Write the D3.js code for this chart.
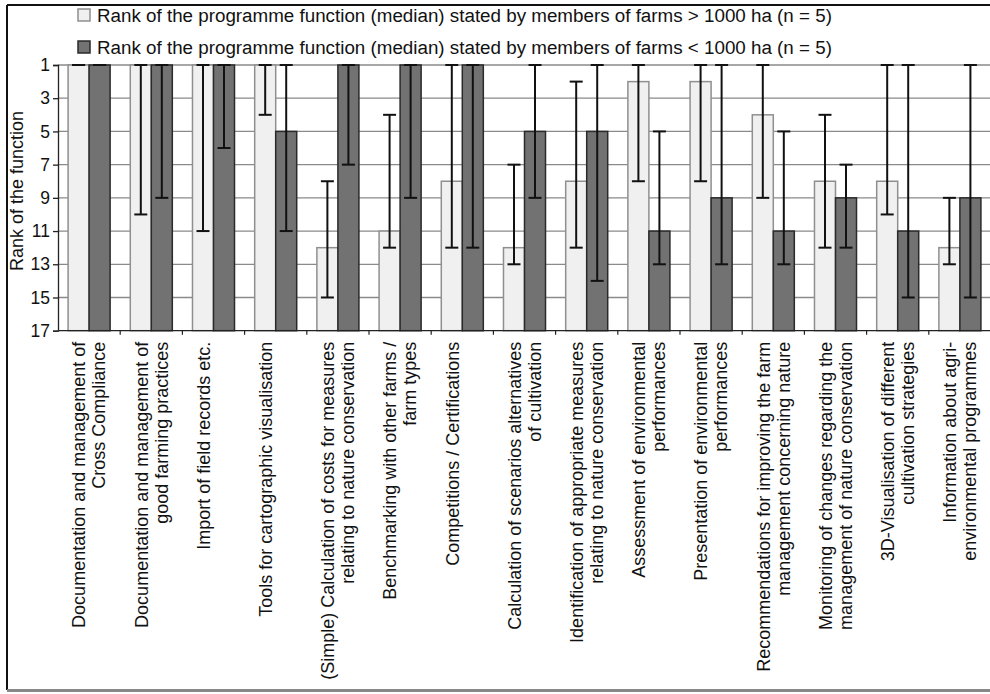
<!DOCTYPE html>
<html>
<head>
<meta charset="utf-8">
<script src="https://cdn.jsdelivr.net/npm/d3@7/dist/d3.min.js"></script>
<style>
  html, body { margin: 0; padding: 0; background: #fff; }
  svg { display: block; font-family: "Liberation Sans", Arial, sans-serif; }
</style>
</head>
<body>
<svg id="chart" width="990" height="694"></svg>
<script>
// Programme functions (each label split into its display lines)
const categories = [
  ["Documentation and management of", "Cross Compliance"],
  ["Documentation and management of", "good farming practices"],
  ["Import of field records etc."],
  ["Tools for cartographic visualisation"],
  ["(Simple) Calculation of costs for measures", "relating to nature conservation"],
  ["Benchmarking with other farms /", "farm types"],
  ["Competitions / Certifications"],
  ["Calculation of scenarios alternatives", "of cultivation"],
  ["Identification of appropriate measures", "relating to nature conservation"],
  ["Assessment of environmental", "performances"],
  ["Presentation of environmental", "performances"],
  ["Recommendations for improving the farm", "management concerning nature"],
  ["Monitoring of changes regarding the", "management of nature conservation"],
  ["3D-Visualisation of different", "cultivation strategies"],
  ["Information about agri-", "environmental programmes"]
];

// Farms > 1000 ha: median rank and range of stated ranks
const largeMedian = [1, 1, 1, 1, 12, 11, 8, 12, 8, 2, 2, 4, 8, 8, 12];
const largeBest   = [1, 1, 1, 1, 8, 4, 1, 7, 2, 1, 1, 1, 4, 1, 9];
const largeWorst  = [1, 10, 11, 4, 15, 12, 12, 13, 12, 8, 8, 9, 12, 10, 13];

// Farms < 1000 ha: median rank and range of stated ranks
const smallMedian = [1, 1, 1, 5, 1, 1, 1, 5, 5, 11, 9, 11, 9, 11, 9];
const smallBest   = [1, 1, 1, 1, 1, 1, 1, 1, 1, 5, 1, 5, 7, 1, 1];
const smallWorst  = [1, 9, 6, 11, 7, 9, 12, 9, 14, 13, 13, 13, 12, 15, 15];

const rankTicks = [1, 3, 5, 7, 9, 11, 13, 15, 17];

const seriesNames = [
  "Rank of the programme function (median) stated by members of farms > 1000 ha (n = 5)",
  "Rank of the programme function (median) stated by members of farms < 1000 ha (n = 5)"
];

const series = [
  { key: "large", median: largeMedian, best: largeBest, worst: largeWorst,
    fill: "#f0f0f0", stroke: "#8f8f8f" },
  { key: "small", median: smallMedian, best: smallBest, worst: smallWorst,
    fill: "#727272", stroke: "#2a2a2a" }
];

const svg = d3.select("#chart");
const W = 990, H = 694;
const plot = { left: 58, right: 991, top: 65, bottom: 330.7 };
const labelSize = 18;

// frame
svg.append("rect").attr("x", 0).attr("y", 0).attr("width", W).attr("height", H).attr("fill", "#fff");
svg.append("line").attr("x1", 7).attr("x2", W).attr("y1", 5).attr("y2", 5)
  .attr("stroke", "#111").attr("stroke-width", 2);
svg.append("line").attr("x1", 7).attr("x2", 7).attr("y1", 5).attr("y2", 690)
  .attr("stroke", "#111").attr("stroke-width", 2);
svg.append("line").attr("x1", 7).attr("x2", W).attr("y1", 690.5).attr("y2", 690.5)
  .attr("stroke", "#888").attr("stroke-width", 3);

const catIndex = d3.range(categories.length);
const x = d3.scaleBand().domain(catIndex).range([plot.left, plot.right]).paddingInner(0).paddingOuter(0);
const xInner = d3.scaleBand().domain(series.map(s => s.key)).range([0, x.bandwidth()])
  .paddingInner(0).paddingOuter(0.48);
const y = d3.scaleLinear().domain([1, 17]).range([plot.top, plot.bottom]);

// horizontal grid lines
svg.append("g").selectAll("line").data(rankTicks.filter(t => t !== 17)).join("line")
  .attr("x1", plot.left).attr("x2", W)
  .attr("y1", d => y(d)).attr("y2", d => y(d))
  .attr("stroke", "#8a8a8a").attr("stroke-width", 1.3);

// bars, hanging from the bottom rank up to the median
series.forEach(s => {
  svg.append("g").selectAll("rect").data(catIndex).join("rect")
    .attr("x", i => x(i) + xInner(s.key))
    .attr("y", i => y(s.median[i]))
    .attr("width", xInner.bandwidth())
    .attr("height", i => y(17) - y(s.median[i]))
    .attr("fill", s.fill)
    .attr("stroke", s.stroke)
    .attr("stroke-width", 1.5);
});

// range whiskers
const cap = 13;
series.forEach(s => {
  const g = svg.append("g").attr("stroke", "#111").attr("stroke-width", 2).attr("fill", "none");
  catIndex.forEach(i => {
    const cx = x(i) + xInner(s.key) + xInner.bandwidth() / 2;
    const y1 = y(s.best[i]), y2 = y(s.worst[i]);
    g.append("line").attr("x1", cx).attr("x2", cx).attr("y1", y1).attr("y2", y2);
    g.append("line").attr("x1", cx - cap / 2).attr("x2", cx + cap / 2).attr("y1", y1).attr("y2", y1);
    g.append("line").attr("x1", cx - cap / 2).attr("x2", cx + cap / 2).attr("y1", y2).attr("y2", y2);
  });
});

// y axis
const yAxis = d3.axisLeft(y).tickValues(rankTicks).tickSize(5).tickPadding(3).tickFormat(d3.format("d"));
const gy = svg.append("g").attr("transform", `translate(${plot.left},0)`).call(yAxis);
gy.select(".domain").attr("stroke", "#222").attr("stroke-width", 1.3);
gy.selectAll(".tick line").attr("stroke", "#222").attr("stroke-width", 1.3);
gy.selectAll(".tick text").attr("font-size", 17.5).attr("fill", "#111")
  .attr("font-family", "Liberation Sans, Arial, sans-serif");

// x axis baseline and category separators
svg.append("line").attr("x1", plot.left).attr("x2", W).attr("y1", y(17)).attr("y2", y(17))
  .attr("stroke", "#222").attr("stroke-width", 1.3);
svg.append("g").selectAll("line").data(d3.range(1, categories.length)).join("line")
  .attr("x1", i => x(i)).attr("x2", i => x(i))
  .attr("y1", y(17)).attr("y2", y(17) + 4)
  .attr("stroke", "#222").attr("stroke-width", 1.2);

// rotated category labels
const labels = svg.append("g").attr("font-size", labelSize).attr("fill", "#111");
catIndex.forEach(i => {
  const cx = x(i) + x.bandwidth() / 2;
  categories[i].forEach((line, k) => {
    labels.append("text")
      .attr("transform", `translate(${cx - 10 + 20 * k},${y(17) + 11}) rotate(-90)`)
      .attr("text-anchor", "end")
      .attr("dy", "0.35em")
      .text(line);
  });
});

// y axis title
svg.append("text")
  .attr("transform", `translate(17,191) rotate(-90)`)
  .attr("text-anchor", "middle").attr("dy", "0.35em")
  .attr("font-size", labelSize).attr("fill", "#111")
  .text("Rank of the function");

// legend
const legend = svg.append("g");
series.forEach((s, k) => {
  const ly = 15 + k * 32;
  legend.append("rect").attr("x", 78).attr("y", ly - 6).attr("width", 12).attr("height", 12)
    .attr("fill", s.fill).attr("stroke", s.stroke).attr("stroke-width", 1.5);
  legend.append("text").attr("x", 97).attr("y", ly).attr("dy", "0.35em")
    .attr("font-size", 18.8).attr("fill", "#111").text(seriesNames[k]);
});
</script>
</body>
</html>
